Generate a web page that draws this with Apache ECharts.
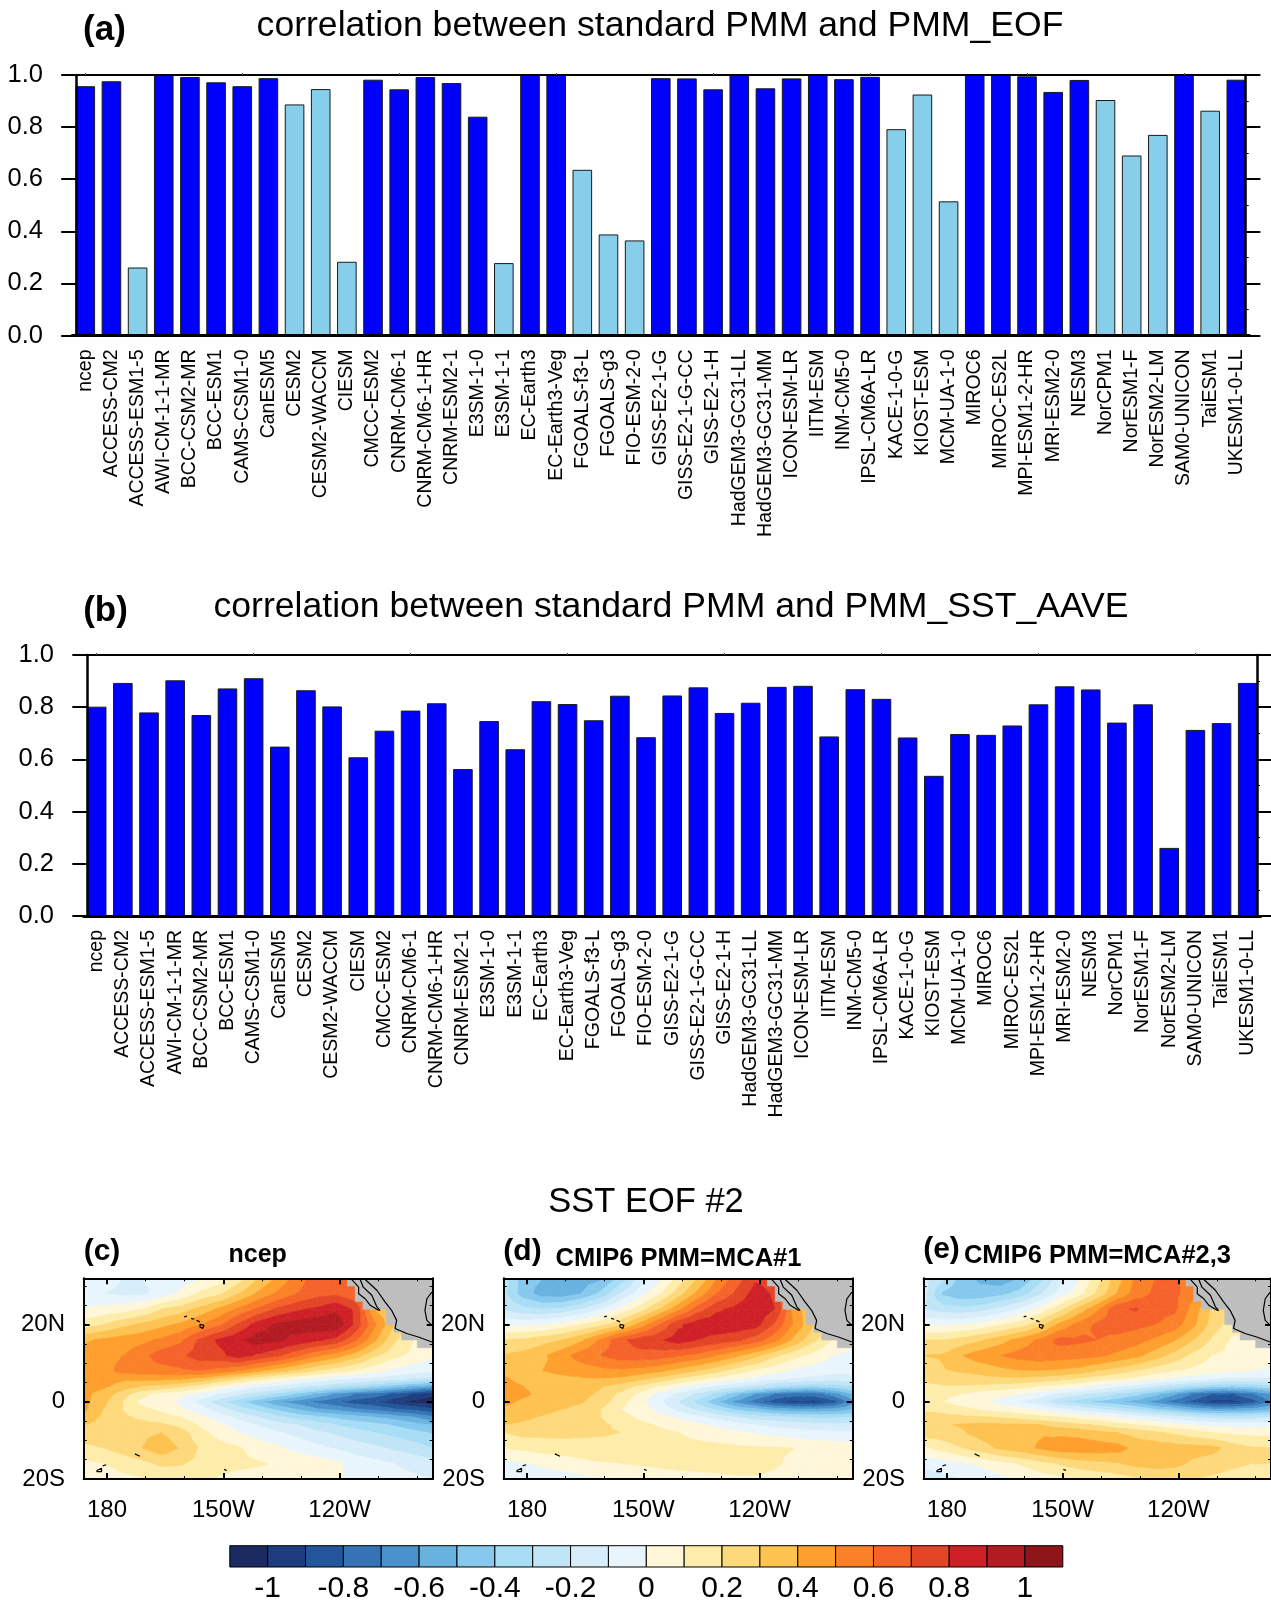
<!DOCTYPE html>
<html><head><meta charset="utf-8">
<style>html,body{margin:0;padding:0;background:#fff;overflow:hidden}#c{width:1271px;height:1604px}</style>
<script src="https://cdn.jsdelivr.net/npm/echarts@6/dist/echarts.min.js"></script>
</head><body><div id="c"></div>
<script>
const models = ['ncep','ACCESS-CM2','ACCESS-ESM1-5','AWI-CM-1-1-MR','BCC-CSM2-MR','BCC-ESM1','CAMS-CSM1-0','CanESM5','CESM2','CESM2-WACCM','CIESM','CMCC-ESM2','CNRM-CM6-1','CNRM-CM6-1-HR','CNRM-ESM2-1','E3SM-1-0','E3SM-1-1','EC-Earth3','EC-Earth3-Veg','FGOALS-f3-L','FGOALS-g3','FIO-ESM-2-0','GISS-E2-1-G','GISS-E2-1-G-CC','GISS-E2-1-H','HadGEM3-GC31-LL','HadGEM3-GC31-MM','ICON-ESM-LR','IITM-ESM','INM-CM5-0','IPSL-CM6A-LR','KACE-1-0-G','KIOST-ESM','MCM-UA-1-0','MIROC6','MIROC-ES2L','MPI-ESM1-2-HR','MRI-ESM2-0','NESM3','NorCPM1','NorESM1-F','NorESM2-LM','SAM0-UNICON','TaiESM1','UKESM1-0-LL'];
const corrEof = [.957,.976,.261,1,.992,.972,.957,.988,.887,.946,.283,.982,.945,.992,.969,.84,.278,1,1,.636,.388,.365,.988,.987,.945,1,.949,.987,1,.984,.993,.792,.925,.515,1,1,.995,.935,.981,.904,.691,.77,1,.863,.982];
const corrAave = [.802,.893,.78,.903,.77,.872,.911,.649,.865,.803,.608,.71,.787,.815,.563,.747,.639,.823,.812,.75,.844,.685,.845,.876,.778,.817,.878,.882,.688,.869,.832,.684,.537,.697,.694,.73,.811,.88,.868,.741,.811,.261,.713,.739,.893];
const lightEof = ['ACCESS-ESM1-5','CESM2','CESM2-WACCM','CIESM','E3SM-1-1','FGOALS-f3-L','FGOALS-g3','FIO-ESM-2-0','KACE-1-0-G','KIOST-ESM','MCM-UA-1-0','NorCPM1','NorESM1-F','NorESM2-LM','TaiESM1'];

const lons = [174,179,184,189,194,199,204,209,214,219,224,229,234,239,244,249,254,259,264];
const lats = [32,28,24,20,16,12,8,6,4,2,0,-2,-4,-6,-8,-12,-16,-20];

const sstNcep = [
[-.03,-.06,-.1,-.1,-.08,-.05,-.01,.04,.15,.3,.42,.55,.65,.66,.6,.5,.5,.5,.5],
[-.03,-.1,-.12,-.12,-.07,.02,.12,.18,.3,.42,.52,.6,.66,.68,.62,.5,.5,.5,.5],
[0,.03,.05,.1,.2,.25,.33,.42,.52,.62,.72,.78,.82,.88,.78,.4,.3,.3,.3],
[.15,.2,.27,.32,.37,.42,.5,.58,.72,.85,.92,.95,.97,.98,.78,.52,.3,.2,.2],
[.38,.42,.45,.47,.52,.58,.72,.82,.88,.95,.92,.87,.82,.77,.62,.42,.22,.1,.08],
[.46,.47,.5,.57,.65,.68,.75,.77,.85,.78,.72,.62,.52,.45,.35,.22,.13,.07,.02],
[.45,.46,.53,.55,.56,.58,.6,.56,.5,.42,.34,.27,.2,.14,.08,.03,-.03,-.06,-.08],
[.45,.45,.42,.43,.43,.42,.38,.3,.22,.14,.08,.02,-.03,-.07,-.1,-.13,-.16,-.2,-.22],
[.44,.42,.36,.3,.27,.22,.15,.06,-.02,-.08,-.12,-.17,-.22,-.28,-.33,-.38,-.45,-.52,-.58],
[.43,.36,.25,.13,.06,.03,-.03,-.1,-.18,-.25,-.33,-.42,-.52,-.62,-.7,-.75,-.82,-.9,-.98],
[.43,.33,.2,.07,.04,-.02,-.13,-.26,-.37,-.47,-.58,-.65,-.72,-.78,-.85,-.88,-.96,-1.03,-1.06],
[.42,.3,.2,.13,.08,.02,-.05,-.15,-.25,-.33,-.42,-.5,-.58,-.62,-.68,-.72,-.78,-.82,-.88],
[.37,.28,.22,.18,.14,.1,.03,-.05,-.13,-.2,-.27,-.33,-.38,-.42,-.46,-.5,-.54,-.6,-.68],
[.3,.27,.25,.23,.22,.17,.09,.02,-.05,-.11,-.16,-.2,-.25,-.3,-.34,-.37,-.41,-.46,-.5],
[.27,.26,.25,.28,.3,.25,.13,.06,0,-.04,-.09,-.13,-.18,-.22,-.26,-.3,-.33,-.37,-.41],
[.17,.2,.24,.3,.36,.29,.19,.14,.11,.05,.02,-.03,-.07,-.11,-.15,-.18,-.22,-.25,-.3],
[.07,.1,.14,.17,.22,.21,.17,.13,.12,.11,.09,.07,.05,.02,-.04,-.07,-.1,-.13,-.16],
[-.02,.03,.07,.09,.11,.13,.12,.09,.07,.06,.06,.05,.04,.02,-.03,-.05,-.07,-.08,-.1]];

const sstMca1 = [
[-.25,-.45,-.5,-.55,-.55,-.52,-.38,-.18,-.03,.13,.3,.5,.65,.78,.75,.7,.7,.7,.7],
[-.28,-.45,-.55,-.56,-.5,-.38,-.2,-.05,.08,.25,.43,.6,.72,.85,.78,.5,.5,.5,.5],
[-.22,-.27,-.3,-.28,-.2,-.1,.02,.14,.3,.47,.65,.78,.83,.87,.8,.45,.3,.3,.3],
[-.02,-.03,-.01,.04,.1,.17,.27,.43,.6,.78,.86,.87,.87,.84,.68,.48,.3,.2,.2],
[.2,.22,.26,.3,.38,.52,.67,.75,.78,.85,.8,.76,.72,.65,.53,.37,.22,.1,.05],
[.31,.33,.38,.46,.55,.6,.65,.66,.65,.61,.57,.5,.42,.33,.22,.13,.06,0,-.04],
[.33,.37,.4,.42,.44,.47,.48,.46,.42,.36,.3,.23,.15,.08,.03,-.02,-.05,-.07,-.07],
[.42,.36,.37,.38,.39,.4,.38,.33,.27,.2,.13,.07,.02,-.03,-.08,-.11,-.13,-.15,-.15],
[.44,.4,.37,.36,.35,.31,.26,.18,.1,.02,-.05,-.12,-.18,-.23,-.3,-.35,-.38,-.35,-.3],
[.47,.42,.37,.35,.33,.28,.18,.08,-.03,-.12,-.22,-.33,-.47,-.6,-.7,-.75,-.75,-.65,-.5],
[.43,.38,.36,.35,.31,.25,.14,.03,-.08,-.2,-.33,-.48,-.63,-.75,-.87,-.92,-.93,-.85,-.65],
[.37,.36,.33,.3,.26,.2,.1,.06,-.03,-.13,-.22,-.31,-.42,-.47,-.55,-.58,-.58,-.57,-.5],
[.35,.32,.29,.27,.24,.2,.14,.08,.04,-.01,-.08,-.14,-.2,-.25,-.28,-.3,-.32,-.32,-.3],
[.3,.28,.27,.25,.24,.22,.18,.13,.09,.05,.02,-.02,-.06,-.1,-.13,-.15,-.17,-.18,-.18],
[.2,.23,.23,.23,.22,.21,.2,.16,.13,.1,.07,.04,.02,-.01,-.04,-.06,-.07,-.08,-.09],
[.1,.12,.14,.15,.16,.17,.17,.16,.15,.14,.13,.13,.12,.11,.11,.1,.07,.06,.05],
[-.03,-.01,.02,.04,.07,.09,.1,.11,.12,.13,.13,.13,.13,.13,.11,.08,.07,.06,.06],
[-.1,-.08,-.06,-.05,-.03,-.01,.01,.03,.05,.06,.07,.08,.09,.09,.08,.06,.05,.05,.05]];

const sstMca23 = [
[-.15,-.28,-.45,-.52,-.57,-.5,-.35,-.15,-.02,.15,.35,.52,.6,.62,.55,.5,.5,.5,.5],
[-.17,-.42,-.48,-.47,-.43,-.36,-.22,-.07,.05,.22,.4,.55,.62,.63,.52,.4,.4,.4,.4],
[-.2,-.25,-.27,-.24,-.17,-.08,.03,.16,.33,.48,.68,.71,.64,.62,.45,.27,.2,.2,.2],
[-.02,-.02,0,.03,.09,.15,.26,.42,.53,.62,.65,.63,.6,.55,.42,.25,.15,.15,.15],
[.2,.2,.24,.29,.36,.44,.52,.63,.62,.6,.57,.54,.48,.41,.3,.18,.08,.05,.04],
[.3,.31,.4,.46,.5,.54,.56,.55,.54,.52,.48,.43,.35,.26,.17,.1,.07,.06,.04],
[.25,.29,.31,.33,.37,.39,.4,.38,.36,.3,.25,.2,.14,.1,.07,.04,.02,0,-.02],
[.22,.25,.26,.27,.28,.28,.26,.24,.2,.15,.11,.07,.02,-.02,-.06,-.09,-.12,-.12,-.12],
[.17,.19,.19,.18,.16,.14,.1,.06,.02,-.04,-.09,-.14,-.2,-.27,-.33,-.38,-.4,-.38,-.33],
[.13,.12,.1,.05,.03,0,-.05,-.13,-.18,-.24,-.3,-.37,-.47,-.58,-.72,-.8,-.8,-.72,-.6],
[.13,.1,.05,.02,-.03,-.1,-.16,-.28,-.35,-.42,-.48,-.55,-.63,-.75,-.83,-.93,-.93,-.85,-.7],
[.18,.16,.13,.09,.06,.03,-.01,-.07,-.12,-.18,-.25,-.3,-.4,-.45,-.54,-.58,-.58,-.56,-.5],
[.25,.24,.22,.21,.19,.16,.13,.1,.07,.03,-.01,-.05,-.1,-.15,-.2,-.24,-.26,-.25,-.22],
[.28,.29,.31,.33,.32,.32,.3,.26,.22,.19,.14,.1,.07,.03,0,-.03,-.04,-.04,-.03],
[.25,.26,.29,.34,.36,.38,.39,.38,.37,.33,.3,.26,.22,.18,.14,.1,.08,.07,.07],
[.08,.14,.2,.26,.32,.36,.41,.46,.46,.46,.44,.37,.36,.35,.34,.33,.25,.21,.2],
[-.08,-.05,-.01,.02,.07,.11,.16,.21,.25,.27,.29,.33,.35,.33,.28,.25,.22,.2,.2],
[-.15,-.13,-.1,-.07,-.03,.01,.04,.07,.1,.13,.15,.18,.2,.21,.2,.18,.16,.15,.15]];

const levels = [-1.1,-1,-.9,-.8,-.7,-.6,-.5,-.4,-.3,-.2,-.1,0,.1,.2,.3,.4,.5,.6,.7,.8,.9,1,1.1];
const levelColors = ['#1B2A60','#1F3D7E','#225599','#3573B5','#4A92CE','#69B2E0','#86C8EE','#A8DDF6','#C0E5F7','#D7EEFA','#E9F5FC','#FFF7D8','#FEEDAA','#FED97C','#FEC250','#FE9F2E','#FB8129','#F5632B','#E44527','#CF2027','#B31B22','#8E161B'];
const colorbarTicks = [-1,-.8,-.6,-.4,-.2,0,.2,.4,.6,.8,1];

const landMask = [[242,32],[242,30],[244,30],[244,26],[246,26],[246,24],[252,24],[252,20],[254,20],[254,18],[256,18],[256,16],[260,16],[260,14],[264,14],[264,32]];
const coastBajaWest = [[243.1,31.7],[244.9,29.7],[244.9,28],[246.6,26.7],[247.9,25],[250,23.7]];
const coastBajaGulf = [[245.3,31.7],[246.1,29.7],[248.3,27.6],[249.6,24.6],[250.4,23.7],[250,23.7]];
const coastMainland = [[246.6,31.7],[249.6,28.9],[251.7,25.9],[253.4,23.7],[254.7,21.1],[254.3,19],[257.3,17.7],[260.3,16.8],[263.8,15.5]];
const coastGulfMexico = [[263.8,28.4],[262.5,26.7],[262,23.7],[262.5,21.1],[263.8,19.8]];
const islandKauai = [[199.9,22],[200.6,22.2]];
const islandOahu = [[201.7,21.6],[202.5,21.4]];
const islandMaui = [[203.1,21.1],[204,20.7]];
const islandHawaii = [[204,20.1],[205,19.8],[204.7,19],[204,19.4],[204,20.1]];
const islandSamoa = [[187.2,-13.5],[188.5,-14.1]];
const islandFijiA = [[177.4,-17.8],[178.6,-17.2],[178.6,-18.1],[177.4,-18.1],[177.4,-17.8]];
const islandFijiB = [[178.9,-16.6],[179.8,-16.3]];
const islandTahiti = [[210.2,-17.5],[210.9,-17.8]];
const coastLines = [coastBajaWest,coastBajaGulf,coastMainland,coastGulfMexico,islandKauai,islandOahu,islandMaui,islandHawaii,islandSamoa,islandFijiA,islandFijiB,islandTahiti];

const lonLabels = {180:'180',210:'150W',240:'120W'};
const latLabels = {'-20':'20S',0:'0',20:'20N'};
const lonMajor = [180,210,240];
const lonMinor = [180,190,200,210,220,230,240,250,260];
const latMajor = [-20,0,20];
const latMinor = [-15,-10,-5,5,10,15,25,30];

/* ---------- filled-contour polygons from a value grid ---------- */
function clip(poly, lim, keepAbove){
  const out=[];
  for(let i=0;i<poly.length;i++){
    const a=poly[i], b=poly[(i+1)%poly.length];
    const ai=keepAbove? a[2]>=lim : a[2]<=lim, bi=keepAbove? b[2]>=lim : b[2]<=lim;
    if(ai) out.push(a);
    if(ai!==bi){ const t=(lim-a[2])/(b[2]-a[2]); out.push([a[0]+t*(b[0]-a[0]),a[1]+t*(b[1]-a[1]),lim]); }
  }
  return out;
}
function bandPolys(grid){
  const res=[];
  for(let j=0;j<lats.length-1;j++) for(let i=0;i<lons.length-1;i++){
    const p=(ii,jj)=>[lons[ii],lats[jj],grid[jj][ii]];
    const c=[(lons[i]+lons[i+1])/2,(lats[j]+lats[j+1])/2,(grid[j][i]+grid[j][i+1]+grid[j+1][i]+grid[j+1][i+1])/4];
    const tris=[[p(i,j),p(i+1,j),c],[p(i+1,j),p(i+1,j+1),c],[p(i+1,j+1),p(i,j+1),c],[p(i,j+1),p(i,j),c]];
    for(const t of tris) for(let b=0;b<levelColors.length;b++){
      let q=clip(t,levels[b],true); if(q.length<3) continue;
      q=clip(q,levels[b+1],false); if(q.length<3) continue;
      res.push({b,q});
    }
  }
  return res;
}

const F='"Liberation Sans",Arial,Helvetica,sans-serif';
const grids=[], xAxes=[], yAxes=[], series=[], titles=[];
function txt(text,cx,cy,size,bold,align){
  titles.push({text,left:cx,top:cy-size*0.58,textAlign:align||'center',padding:0,
    textStyle:{fontFamily:F,fontSize:size,fontWeight:bold?'bold':'normal',color:'#000'}});
}

function barPanel(g,left,top,height,spineL,spineR,values,lightNames){
  const width=1177.2, gi=grids.length;
  grids.push({left,top,width,height,containLabel:false});
  const xi=xAxes.length, yi=yAxes.length;
  xAxes.push({gridIndex:gi,type:'category',data:models,position:'bottom',z:10,
    axisLine:{show:true,onZero:false,lineStyle:{color:'#000',width:3}},axisTick:{show:false},
    axisLabel:{interval:0,rotate:90,margin:14,fontFamily:F,fontSize:19.5,color:'#000'}});
  xAxes.push({gridIndex:gi,type:'category',data:models,position:'top',z:10,
    axisLine:{show:true,onZero:false,lineStyle:{color:'#000',width:2}},
    axisTick:{show:true,alignWithLabel:true,length:2,lineStyle:{color:'#555',width:1}},axisLabel:{show:false}});
  const common={gridIndex:gi,type:'value',min:0,max:1,interval:.2,z:10,splitLine:{show:false},
    axisLine:{show:true,onZero:false,lineStyle:{color:'#000',width:2.5}}};
  yAxes.push({...common,position:'left',offset:-spineL,
    axisTick:{show:true,length:14.7,lineStyle:{color:'#000',width:2}},
    axisLabel:{margin:33,fontFamily:F,fontSize:25.5,color:'#000',padding:[4,0,0,0],formatter:v=>v.toFixed(1)}});
  yAxes.push({...common,position:'right',offset:-spineR,
    axisTick:{show:true,length:14.7,lineStyle:{color:'#000',width:2}},
    minorTick:{show:true,splitNumber:2,length:3,lineStyle:{color:'#000',width:1}},
    axisLabel:{show:false}});
  series.push({type:'bar',xAxisIndex:xi,yAxisIndex:yi,barWidth:19.6,clip:false,animation:false,
    data:values.map((v,i)=>({value:v,itemStyle:{color:lightNames.includes(models[i])?'#87CEEB':'#0000FF',borderColor:'#1a1a1a',borderWidth:1}}))});
}

function mapPanel(left,grid){
  const gi=grids.length, top=1278.3, width=349, height=200.7;
  grids.push({left,top,width,height,containLabel:false});
  const xi=xAxes.length, yi=yAxes.length;
  const lineS={show:true,onZero:false,lineStyle:{color:'#000',width:2}};
  const noLine={show:false,onZero:false};
  const xc={gridIndex:gi,type:'value',min:174,max:264,z:10,splitLine:{show:false}};
  const yc={gridIndex:gi,type:'value',min:-20,max:32,z:10,splitLine:{show:false}};
  xAxes.push({...xc,position:'bottom',axisLine:lineS,
    axisTick:{show:true,inside:true,length:6,customValues:lonMajor,lineStyle:{color:'#000',width:2}},
    axisLabel:{customValues:lonMajor,margin:19,fontFamily:F,fontSize:24,color:'#000',formatter:v=>lonLabels[v]}});
  xAxes.push({...xc,position:'top',axisLine:lineS,
    axisTick:{show:true,inside:true,length:6,customValues:lonMajor,lineStyle:{color:'#000',width:2}},axisLabel:{show:false}});
  xAxes.push({...xc,position:'bottom',axisLine:noLine,
    axisTick:{show:true,inside:true,length:3,customValues:lonMinor,lineStyle:{color:'#000',width:1}},axisLabel:{show:false}});
  xAxes.push({...xc,position:'top',axisLine:noLine,
    axisTick:{show:true,inside:true,length:3,customValues:lonMinor,lineStyle:{color:'#000',width:1}},axisLabel:{show:false}});
  yAxes.push({...yc,position:'left',axisLine:lineS,
    axisTick:{show:true,inside:true,length:6,customValues:latMajor,lineStyle:{color:'#000',width:2}},
    axisLabel:{customValues:latMajor,margin:18.7,fontFamily:F,fontSize:24,color:'#000',padding:[2,0,0,0],formatter:v=>latLabels[v]}});
  yAxes.push({...yc,position:'right',axisLine:lineS,
    axisTick:{show:true,inside:true,length:6,customValues:latMajor,lineStyle:{color:'#000',width:2}},axisLabel:{show:false}});
  yAxes.push({...yc,position:'left',axisLine:noLine,
    axisTick:{show:true,inside:true,length:3,customValues:latMinor,lineStyle:{color:'#000',width:1}},axisLabel:{show:false}});
  yAxes.push({...yc,position:'right',axisLine:noLine,
    axisTick:{show:true,inside:true,length:3,customValues:latMinor,lineStyle:{color:'#000',width:1}},axisLabel:{show:false}});
  const polys=bandPolys(grid);
  series.push({type:'custom',coordinateSystem:'cartesian2d',xAxisIndex:xi,yAxisIndex:yi,z:1,clip:true,animation:false,progressive:0,silent:true,
    data:polys.map((p,i)=>[p.q[0][0],p.q[0][1],i]),encode:{x:0,y:1},
    renderItem:(params,api)=>{const p=polys[api.value(2)];const col=levelColors[p.b];
      return {type:'polygon',shape:{points:p.q.map(v=>api.coord([v[0],v[1]]))},style:{fill:col,stroke:col,lineWidth:.7}};}});
  series.push({type:'custom',coordinateSystem:'cartesian2d',xAxisIndex:xi,yAxisIndex:yi,z:2,clip:true,animation:false,silent:true,
    data:[[242,32]],encode:{x:0,y:1},
    renderItem:(params,api)=>({type:'polygon',shape:{points:landMask.map(v=>api.coord(v))},style:{fill:'#BEBEBE',stroke:'#BEBEBE',lineWidth:.5}})});
  coastLines.forEach(seg=>series.push({type:'line',xAxisIndex:xi,yAxisIndex:yi,z:3,data:seg,symbol:'none',silent:true,animation:false,clip:true,
    lineStyle:{color:'#000',width:1.2}}));
}

barPanel(0,72.2,75,260.5,3.7,3.7,corrEof,lightEof);
barPanel(1,83.6,655,261,3.4,3.8,corrAave,[]);
mapPanel(83.7,sstNcep);
mapPanel(503.7,sstMca1);
mapPanel(923.7,sstMca23);

/* colour bar */
{
  const gi=grids.length;
  grids.push({left:229.8,top:1545.7,width:833,height:26.6,containLabel:false});
  const xi=xAxes.length, yi=yAxes.length;
  xAxes.push({gridIndex:gi,type:'value',min:-1.1,max:1.1,z:10,splitLine:{show:false},axisLine:{show:false,onZero:false},axisTick:{show:false},
    axisLabel:{customValues:colorbarTicks,margin:7,fontFamily:F,fontSize:30,color:'#000',formatter:v=>String(+v.toFixed(1))}});
  yAxes.push({gridIndex:gi,type:'value',min:0,max:1,show:false});
  series.push({type:'custom',coordinateSystem:'cartesian2d',xAxisIndex:xi,yAxisIndex:yi,animation:false,silent:true,
    data:levelColors.map((c,i)=>[levels[i],levels[i+1],i]),encode:{x:[0,1]},
    renderItem:(params,api)=>{const a=api.coord([api.value(0),1]),b=api.coord([api.value(1),0]);
      return {type:'rect',shape:{x:a[0],y:a[1],width:b[0]-a[0],height:b[1]-a[1]},style:{fill:levelColors[api.value(2)],stroke:'#000',lineWidth:1}};}});
}

txt('correlation between standard PMM and PMM_EOF',660,29,35.6);
txt('correlation between standard PMM and PMM_SST_AAVE',671,609.5,35.6);
txt('(a)',104.5,33,35,true);
txt('(b)',105.5,614,35,true);
txt('SST EOF #2',646,1205,34.5);
txt('(c)',102,1254.5,30,true);
txt('ncep',257.7,1257,25,true);
txt('(d)',522.5,1254.5,30,true);
txt('CMIP6 PMM=MCA#1',678.5,1260.5,25.5,true);
txt('(e)',941.5,1252.5,30,true);
txt('CMIP6 PMM=MCA#2,3',1097.5,1257.5,25.5,true);

const chart=echarts.init(document.getElementById('c'),null,{renderer:'canvas',width:1271,height:1604});
chart.setOption({animation:false,backgroundColor:'#fff',title:titles,grid:grids,xAxis:xAxes,yAxis:yAxes,series});
</script></body></html>
